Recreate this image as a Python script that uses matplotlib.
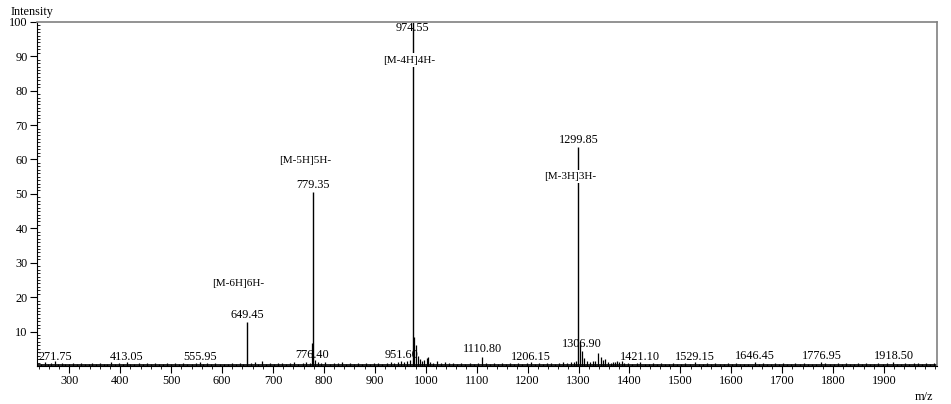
import matplotlib
matplotlib.use("Agg")
import matplotlib.pyplot as plt
from matplotlib.ticker import MultipleLocator

plt.rcParams['font.family'] = ['Liberation Serif', 'DejaVu Serif']

# main peaks (m/z, relative intensity)
peak_mz = [649.45, 779.35, 974.55, 1299.85]
peak_int = [12.9, 50.6, 100.0, 63.6]
peak_ion = ["[M-6H]6H-", "[M-5H]5H-", "[M-4H]4H-", "[M-3H]3H-"]
peak_lab_y = [14.8, 52.6, 98.2, 65.6]
ion_lab_y = [24.0, 59.8, 88.9, 55.0]
ion_lab_x = [631, 763, 967, 1283]

# small labelled peaks
small_lab = ["271.75", "413.05", "555.95", "776.40", "951.60", "1110.80", "1206.15",
             "1306.90", "1421.10", "1529.15", "1646.45", "1776.95", "1918.50"]
small_lab_y = [2.7, 2.7, 2.7, 3.2, 3.2, 4.9, 2.6, 6.4, 2.6, 2.6, 2.9, 2.9, 2.9]

# minor / noise peaks
noise_mz = [245, 252, 258, 265, 271.75, 278, 285, 292, 300, 308, 315, 322, 330, 338,
            345, 352, 360, 368, 375, 382, 390, 398, 405, 413.05, 420, 428, 436, 444,
            452, 460, 468, 476, 484, 492, 500, 508, 516, 524, 532, 540, 548, 555.95,
            563, 571, 579, 587, 595, 603, 611, 619, 627, 635, 642, 657, 664, 671, 679,
            686, 694, 702, 710, 718, 726, 734, 742, 750, 758, 765, 772, 776.4, 782,
            788, 795, 803, 811, 819, 827, 835, 843, 851, 859, 867, 875, 883, 891, 899,
            907, 915, 923, 931, 938, 945, 951.6, 958, 964, 969, 976, 980, 984, 988,
            992, 996, 1002, 1005, 1009, 1015, 1022, 1030, 1038, 1046, 1054, 1062,
            1070, 1078, 1086, 1094, 1102, 1110.8, 1118, 1126, 1134, 1142, 1150, 1158,
            1166, 1174, 1182, 1190, 1198, 1206.15, 1214, 1222, 1230, 1238, 1246, 1254,
            1262, 1270, 1278, 1285, 1291, 1296, 1302, 1306.9, 1311, 1316, 1322, 1328,
            1333, 1339, 1344, 1348, 1353, 1358, 1363, 1368, 1372, 1376, 1380, 1385,
            1390, 1398, 1406, 1414, 1421.1, 1430, 1438, 1446, 1454, 1462, 1470, 1478,
            1486, 1494, 1502, 1510, 1518, 1529.15, 1537, 1545, 1553, 1561, 1569, 1577,
            1585, 1593, 1601, 1609, 1617, 1625, 1633, 1646.45, 1654, 1662, 1670, 1678,
            1686, 1694, 1702, 1710, 1718, 1726, 1734, 1742, 1750, 1758, 1766, 1776.95,
            1785, 1793, 1801, 1809, 1817, 1825, 1833, 1841, 1849, 1857, 1865, 1873,
            1881, 1889, 1897, 1905, 1918.5, 1926, 1934, 1942, 1950, 1958, 1966, 1974,
            1982, 1990, 1998]
noise_int = [0.6, 1.2, 0.5, 0.8, 1.6, 0.7, 0.9, 0.5, 0.6, 0.8, 0.5, 0.9, 0.6, 0.7,
             1.0, 0.5, 0.8, 0.6, 0.7, 1.1, 0.5, 0.8, 0.6, 1.3, 0.7, 0.5, 0.9, 0.6,
             0.8, 0.5, 1.0, 0.6, 0.7, 0.9, 0.5, 0.8, 0.6, 1.0, 0.5, 0.7, 0.9, 1.3,
             0.6, 0.8, 0.5, 1.0, 0.6, 0.7, 0.5, 0.9, 0.6, 0.8, 0.7, 0.9, 1.1, 0.6, 1.4,
             0.7, 0.9, 0.5, 0.8, 1.0, 0.6, 0.9, 1.1, 0.7, 0.8, 1.2, 1.0, 6.7, 1.8,
             1.2, 0.9, 1.1, 0.7, 1.0, 0.8, 1.2, 0.7, 0.9, 0.6, 1.0, 0.7, 0.9, 0.6, 0.8,
             1.0, 0.7, 0.9, 1.2, 1.0, 1.3, 1.6, 1.2, 1.5, 1.8, 8.5, 6.1, 3.0, 2.0,
             1.6, 1.8, 2.4, 2.6, 1.3, 1.0, 1.4, 0.9, 1.1, 0.8, 0.9, 0.7,
             1.0, 0.6, 0.8, 0.7, 0.9, 2.6, 0.8, 0.6, 0.9, 0.7, 0.8, 0.6,
             0.9, 0.7, 1.0, 0.6, 0.8, 1.1, 0.7, 0.9, 0.6, 0.8, 1.0, 0.7,
             0.9, 1.2, 1.0, 1.3, 1.1, 1.5, 7.0, 4.5, 2.4, 1.5, 1.2, 1.6,
             1.4, 3.8, 2.6, 1.8, 2.0, 1.2, 1.0, 1.3, 1.1, 1.5, 1.2, 1.4,
             0.9, 0.8, 0.6, 0.9, 1.2, 0.7, 0.5, 0.8, 0.6, 0.9, 0.5, 0.7,
             0.8, 0.6, 0.5, 0.9, 0.6, 1.2, 0.7, 0.5, 0.9, 0.6, 0.8, 0.5,
             0.7, 0.9, 0.6, 0.8, 0.5, 0.7, 0.6, 1.1, 0.6, 0.9, 0.5, 0.7,
             0.8, 0.6, 0.9, 0.5, 0.7, 0.8, 0.6, 0.9, 0.5, 0.7, 0.6, 1.2,
             0.8, 0.5, 0.7, 0.9, 0.6, 0.8, 0.5, 0.7, 0.9, 0.6, 0.8, 0.5,
             0.7, 0.9, 0.6, 0.8, 1.2, 0.7, 0.5, 0.9, 0.6, 0.8, 1.0, 0.7,
             0.9, 0.6, 0.8]

fig = plt.figure(figsize=(9.51, 4.04), dpi=100)
ax = fig.add_axes([0.0386, 0.094, 0.9464, 0.852])

ax.vlines(noise_mz, 0, noise_int, color='k', lw=0.9)
ax.vlines(peak_mz, 0, peak_int, color='k', lw=1.0)
ax.axhline(0.3, color='k', lw=1.2)

fs = 8.8
for x, y, lab in zip(peak_mz, peak_lab_y, peak_mz):
    ax.text(x, y, f"{lab:.2f}", ha='center', va='center', fontsize=fs, zorder=5)
for x, y, lab in zip(ion_lab_x, ion_lab_y, peak_ion):
    ax.text(x, y, lab, ha='center', va='center', fontsize=fs - 0.7, zorder=5,
            bbox=dict(facecolor='white', edgecolor='none', pad=1.5))
for lab, y in zip(small_lab, small_lab_y):
    ax.text(float(lab), y, lab, ha='center', va='center', fontsize=fs, zorder=5)

ax.set_xlim(236, 2003.5)
ax.set_ylim(0, 100)
ax.xaxis.set_minor_locator(MultipleLocator(20))
ax.yaxis.set_minor_locator(MultipleLocator(1))
ax.set_xticks(range(300, 2000, 100))
ax.set_yticks(range(10, 101, 10))
ax.tick_params(axis='both', which='major', labelsize=fs, length=5, width=0.8, pad=1.5)
ax.tick_params(axis='x', which='minor', length=2.5, width=0.6)
ax.tick_params(axis='y', which='minor', direction='in', length=2.5, width=0.6)

for s in ['top', 'right']:
    ax.spines[s].set_color('#808080')
    ax.spines[s].set_linewidth(1.2)
ax.spines['left'].set_linewidth(0.8)
ax.spines['bottom'].set_linewidth(0.8)

fig.text(0.011, 0.985, "Intensity", fontsize=fs, ha='left', va='top')
fig.text(0.962, 0.018, "m/z", fontsize=fs, ha='left', va='center')

fig.savefig("out.png", dpi=100)
